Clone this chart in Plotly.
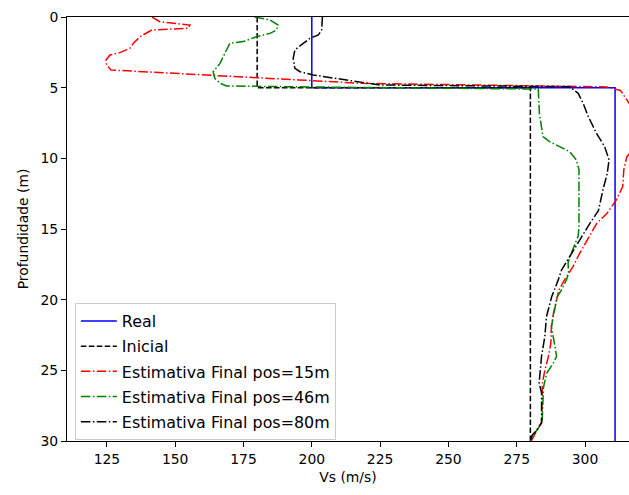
import plotly.graph_objects as go

# ---- data ----
real_vs = [200, 200, 311, 311]
real_depth = [0, 5, 5, 30]

ini_vs = [180, 180, 280, 280]
ini_depth = [0, 5, 5, 30]

red_depth = [0, 0.33, 0.57, 0.8, 0.92, 1.1, 1.4, 1.86, 2.2, 2.52, 2.69, 3.04, 3.4, 3.75,
             4.1, 4.45, 4.69, 4.95, 5.2, 6.2, 7.5, 8.8, 9.9, 10.8, 12.0, 12.9, 13.9, 14.6,
             15.8, 16.7, 17.7, 18.6, 19.3, 20.0, 20.9, 21.9, 23.1, 24.1, 25.0, 25.9, 26.9,
             28.7, 29.2, 29.9, 30]
red_vs = [141.5, 144.4, 155.4, 154.7, 141.4, 139.6, 137.1, 134.7, 133.5, 129.8, 126.1, 124.7,
          124.9, 126.5, 163, 195, 218, 308, 313, 316.5, 321, 320, 315.3, 314.2, 313.8, 311.6,
          308, 304.3, 300.7, 298.1, 295.5, 292.5, 290.5, 289.5, 288.5, 287.7, 287.5, 286.5,
          285.3, 284.4, 284.3, 284.1, 282.5, 280.8, 280.3]

green_depth = [0, 0.21, 0.57, 0.92, 1.16, 1.39, 1.74, 1.86, 2.57, 3.28, 3.87, 4.34, 4.69, 4.88,
               4.95, 5.1, 6.81, 8.47, 8.82, 9.53, 10.1, 10.8, 12.7, 14.8, 15.5, 16.3, 17.0,
               17.4, 18.1, 18.6, 19.3, 19.8, 20.7, 21.9, 23.3, 24.0, 24.5, 25.2, 26.2, 27.3,
               28.7, 29.2, 29.7, 30]
green_vs = [179.1, 184.7, 187.7, 187.1, 184.7, 179.8, 174.9, 170.0, 168.2, 166.4, 163.9, 164.5,
            166.4, 168.8, 200, 282.9, 283.3, 284.6, 287.0, 294.4, 296.8, 297.8, 297.8, 297.8,
            297.5, 295.7, 294.4, 293.8, 294.0, 293.2, 291.4, 289.8, 289.0, 287.7, 289.0, 289.6,
            288.4, 286.0, 284.8, 284.6, 284.3, 282.5, 280.6, 280.2]

black_depth = [0, 0.92, 1.27, 1.51, 1.86, 2.33, 2.92, 3.63, 3.87, 4.1, 4.46, 4.81, 4.93, 5.4,
               6.1, 7.05, 8.23, 9.18, 10.1, 11.1, 12.2, 13.7, 14.6, 15.8, 17.0, 17.9, 18.6,
               19.8, 21.2, 22.6, 24.0, 25.2, 25.9, 26.6, 28.7, 29.2, 29.6, 30]
black_vs = [203.9, 203.6, 202.4, 199.3, 196.9, 193.8, 193.2, 193.8, 195.7, 200.5, 212.7, 224.9,
            294.4, 297.5, 299.3, 301.2, 304.2, 307.2, 308.8, 308.1, 306.6, 304.9, 301.8, 298.1,
            294.4, 291.4, 290.2, 287.8, 285.9, 285.3, 284.1, 283.5, 283.2, 284.1, 284.1, 282.5,
            280.6, 280.0]

x_ticks = [125, 150, 175, 200, 225, 250, 275, 300]
y_ticks = [0, 5, 10, 15, 20, 25, 30]

DASHDOT = "9.6px,2.4px,1.5px,2.4px"
DASHED = "5.55px,2.4px"

series = [
    ("Real", real_vs, real_depth, "#0000ff", "solid"),
    ("Inicial", ini_vs, ini_depth, "#000000", DASHED),
    ("Estimativa Final pos=15m", red_vs, red_depth, "#ff0000", DASHDOT),
    ("Estimativa Final pos=46m", green_vs, green_depth, "#008000", DASHDOT),
    ("Estimativa Final pos=80m", black_vs, black_depth, "#000000", DASHDOT),
]

fig = go.Figure()
for i, (name, xs, ys, col, dash) in enumerate(series):
    fig.add_trace(go.Scatter(x=xs, y=ys, mode="lines", name=name, legendgroup=str(i),
                             line=dict(color=col, width=1.5, dash=dash)))

FONT = "DejaVu Sans"
fig.update_layout(
    width=629, height=495,
    margin=dict(l=67, r=0, t=17, b=54),
    paper_bgcolor="white", plot_bgcolor="white",
    font=dict(family=FONT, size=13.9, color="#000000"),
    showlegend=True,
    legend=dict(x=0.014, y=0.002, xanchor="left", yanchor="bottom",
                bgcolor="rgba(255,255,255,0.8)", bordercolor="#cccccc", borderwidth=1,
                font=dict(family=FONT, size=15.9, color="#000000"),
                itemwidth=36, tracegroupgap=1.5, traceorder="grouped"),
    xaxis=dict(range=[110.4, 316.1], tickvals=x_ticks, ticks="outside", ticklen=5,
               tickcolor="#000", showline=True, linecolor="#000", linewidth=1, mirror=True,
               showgrid=False, zeroline=False,
               title=dict(text="Vs (m/s)", font=dict(family=FONT, size=13.9), standoff=6)),
    yaxis=dict(range=[30, 0], tickvals=y_ticks, ticks="outside", ticklen=5,
               tickcolor="#000", showline=True, linecolor="#000", linewidth=1,
               showgrid=False, zeroline=False,
               title=dict(text="Profundidade (m)", font=dict(family=FONT, size=13.9), standoff=8)),
)
fig.write_html("out.html")
